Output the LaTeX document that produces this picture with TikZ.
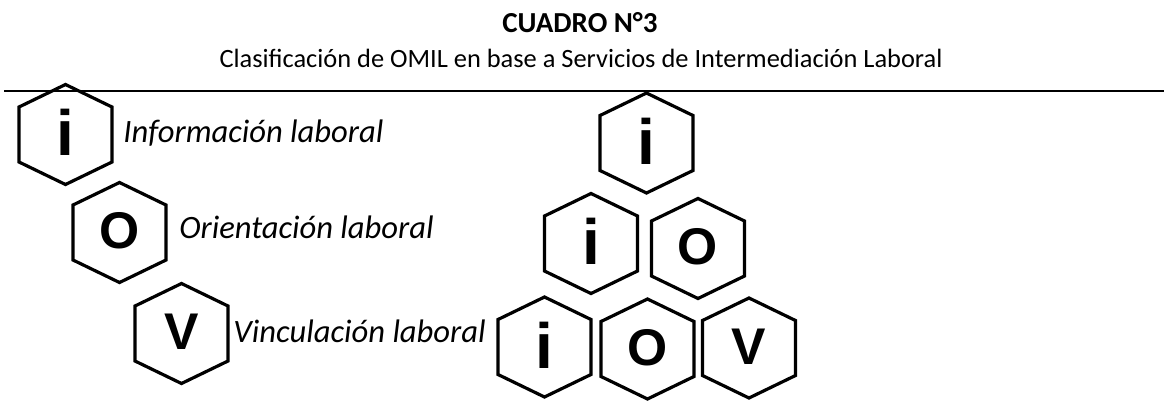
\documentclass[tikz,border=0pt]{standalone}
\usepackage{fontspec}
\setmainfont{Carlito}
\newfontfamily\hexfont{Liberation Sans}
\usetikzlibrary{calc}
\tikzset{
  hexline/.style={line width=1.6pt, line join=miter},
  hexletter/.style={font=\hexfont\bfseries\fontsize{25.8}{26}\selectfont, inner sep=0, anchor=base, yshift=-8pt},
  iletter/.style={font=\hexfont\bfseries\fontsize{32}{32}\selectfont, inner sep=0, anchor=base, yshift=-10.5pt},
  desclabel/.style={font=\itshape\fontsize{16.3}{17}\selectfont, inner sep=0, anchor=base west},
  titletext/.style={font=\bfseries\fontsize{14.5}{15}\selectfont, inner sep=0, anchor=base},
  subtitletext/.style={font=\fontsize{13.2}{14}\selectfont, inner sep=0, anchor=base},
}
\newcommand\hexcell[5]{%
  \coordinate (#1) at (#2,#3);
  \draw[hexline] ($(#1)+(0,-50)$) -- ++(46.5,22.5) -- ++(0,55) -- ++(-46.5,22.5) -- ++(-46.5,-22.5) -- ++(0,-55) -- cycle;
  \node[#4] (#1-l) at (#1) {#5};
}
\begin{document}
\begin{tikzpicture}[x=0.5pt,y=-0.5pt]
\useasboundingbox (0,0) rectangle (1164,414);
\node[titletext] (title) at (580,32) {CUADRO N°3};
\node[subtitletext] (subtitle) at (581,67) {Clasificación de OMIL en base a Servicios de Intermediación Laboral};
\coordinate (rl) at (4,91);
\coordinate (rr) at (1164,91);
\draw[line width=1pt] (rl) -- (rr);
% left column
\hexcell{L1}{65.5}{134.5}{iletter}{i}
\hexcell{L2}{119.5}{232.5}{hexletter}{O}
\hexcell{L3}{181.5}{333.5}{hexletter}{V}
\node[desclabel] (lab1) at (123,142) {Información laboral};
\node[desclabel] (lab2) at (179,238) {Orientación laboral};
\node[desclabel] (lab3) at (233,342) {Vinculación laboral};
% pyramid
\hexcell{T1}{646.5}{143}{iletter}{i}
\hexcell{R2a}{591}{243.5}{iletter}{i}
\hexcell{R2b}{698}{248.5}{hexletter}{O}
\hexcell{R3a}{544.5}{347}{iletter}{i}
\hexcell{R3b}{647.5}{349}{hexletter}{O}
\hexcell{R3c}{749}{348}{hexletter}{V}
\end{tikzpicture}
\end{document}
